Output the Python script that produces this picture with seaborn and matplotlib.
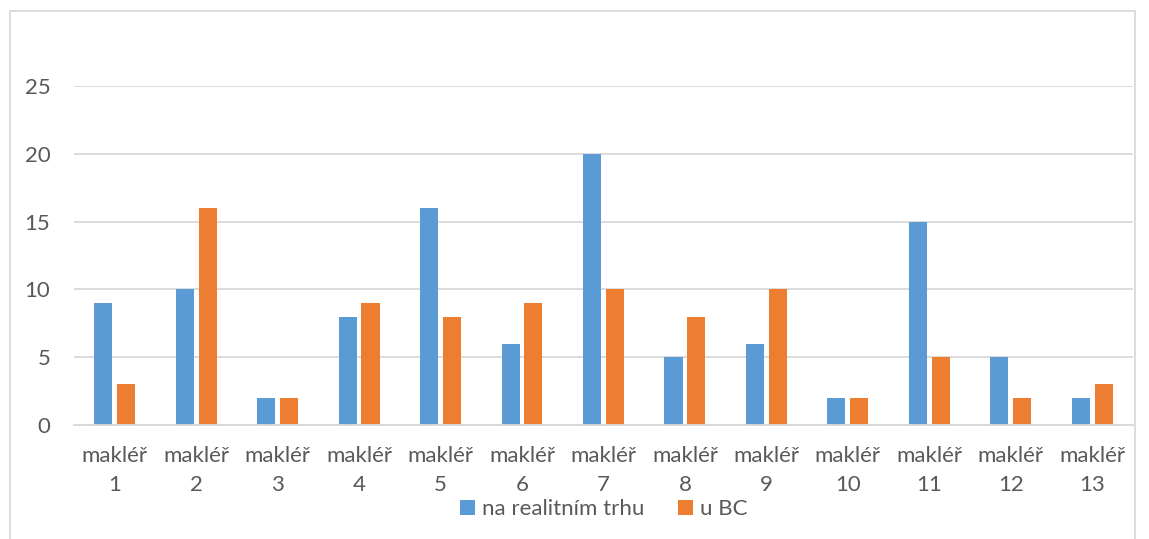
import matplotlib
matplotlib.use('Agg')
import matplotlib.pyplot as plt
import pandas as pd
import seaborn as sns
from matplotlib.patches import Rectangle

# data
makleri = ['makléř\n1', 'makléř\n2', 'makléř\n3', 'makléř\n4', 'makléř\n5', 'makléř\n6', 'makléř\n7',
           'makléř\n8', 'makléř\n9', 'makléř\n10', 'makléř\n11', 'makléř\n12', 'makléř\n13']
na_realitnim_trhu = [9, 10, 2, 8, 16, 6, 20, 5, 6, 2, 15, 5, 2]
u_bc = [3, 16, 2, 9, 8, 9, 10, 8, 10, 2, 5, 2, 3]
serie = ['na realitním trhu', 'u BC']

df = pd.DataFrame({'makler': makleri * 2,
                   'hodnota': na_realitnim_trhu + u_bc,
                   'serie': [serie[0]] * len(makleri) + [serie[1]] * len(makleri)})

sns.set_style('white')
plt.rcParams['font.family'] = ['Lato', 'DejaVu Sans']

fig = plt.figure(figsize=(11.49, 5.39), dpi=100)
ax = fig.add_axes([0.0644, 0.2115, 0.9216, 0.6289])

sns.barplot(data=df, x='makler', y='hodnota', hue='serie', ax=ax,
            palette=['#5B9BD5', '#ED7D31'], width=0.56, gap=0.21,
            saturation=1, edgecolor='none')

ax.set_ylim(0, 25)
ax.set_xlim(-0.5, len(makleri) - 0.5)
ax.set_yticks([0, 5, 10, 15, 20, 25])
ax.yaxis.grid(True, color='#D9D9D9', linewidth=1.3)
ax.set_axisbelow(True)
for s in ['top', 'right', 'left']:
    ax.spines[s].set_visible(False)
ax.spines['bottom'].set_color('#D9D9D9')
ax.spines['bottom'].set_linewidth(1.3)
ax.tick_params(axis='both', length=0, labelsize=16, colors='#595959')
ax.tick_params(axis='y', pad=17)
ax.tick_params(axis='x', pad=15)
for t in ax.get_xticklabels():
    t.set_linespacing(1.55)
ax.set_xlabel('')
ax.set_ylabel('')

ax.legend(loc='upper center', bbox_to_anchor=(0.5, -0.18), ncol=2, frameon=False,
          fontsize=16, handlelength=0.7, handleheight=0.7, handletextpad=0.3,
          columnspacing=1.5, labelcolor='#595959', borderpad=0.1)

# chart frame like in the original
fig.patches.append(Rectangle((10 / 1149, -0.05), 1125 / 1149, 1.05 - 11 / 539,
                             transform=fig.transFigure, fill=False,
                             edgecolor='#D9D9D9', linewidth=1.3))

fig.savefig('out.png', dpi=100)
